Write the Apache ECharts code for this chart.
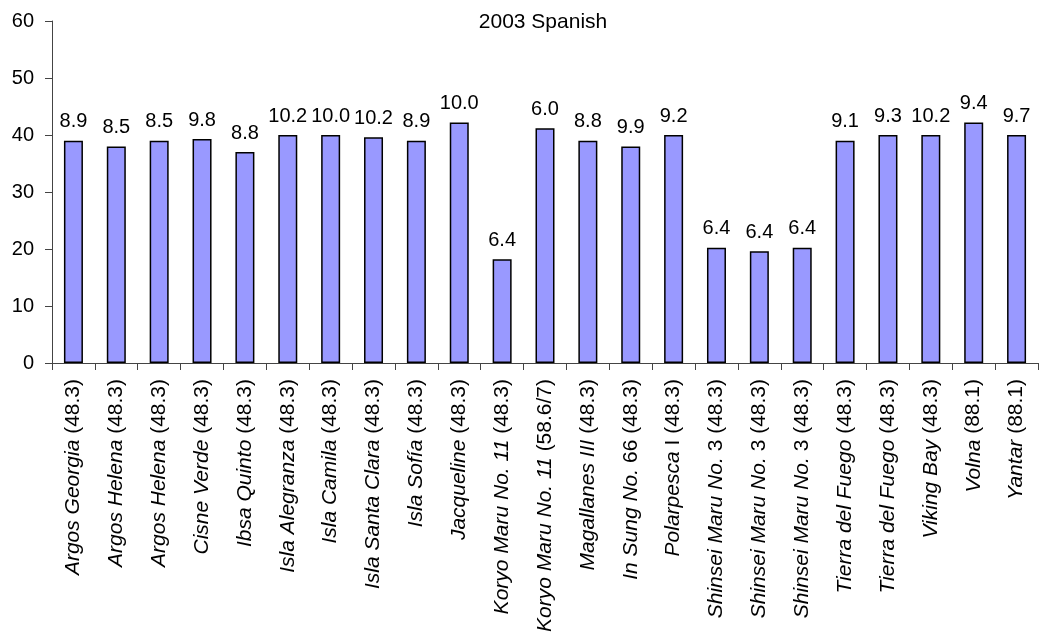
<!DOCTYPE html>
<html>
<head>
<meta charset="utf-8">
<script src="https://cdn.jsdelivr.net/npm/echarts@6/dist/echarts.min.js"></script>
<style>html,body{margin:0;padding:0;background:#fff}#c{width:1063px;height:644px}</style>
</head>
<body>
<div id="c"></div>
<script>
var vesselItalic = ["Argos Georgia","Argos Helena","Argos Helena","Cisne Verde","Ibsa Quinto","Isla Alegranza","Isla Camila","Isla Santa Clara","Isla Sofía","Jacqueline","Koryo Maru No. 11","Koryo Maru No. 11","Magallanes III","In Sung No.","Polarpesca","Shinsei Maru No.","Shinsei Maru No.","Shinsei Maru No.","Tierra del Fuego","Tierra del Fuego","Viking Bay","Volna","Yantar"];
var vesselPlain = ["","","","","","","","","","","","",""," 66"," I"," 3"," 3"," 3","","","","",""];
var areaCodes = ["(48.3)","(48.3)","(48.3)","(48.3)","(48.3)","(48.3)","(48.3)","(48.3)","(48.3)","(48.3)","(48.3)","(58.6/7)","(48.3)","(48.3)","(48.3)","(48.3)","(48.3)","(48.3)","(48.3)","(48.3)","(48.3)","(88.1)","(88.1)"];
var barValues = [39,38,39,39.3,37,40,40,39.6,39,42.2,18.2,41.2,39,38,40,20.2,19.6,20.2,39,40,40,42.2,40];
var barLabels = ["8.9","8.5","8.5","9.8","8.8","10.2","10.0","10.2","8.9","10.0","6.4","6.0","8.8","9.9","9.2","6.4","6.4","6.4","9.1","9.3","10.2","9.4","9.7"];
var yTicks = [0,10,20,30,40,50,60];

var categories = vesselItalic.map(function(n,i){ return String(i); });
var FONT = 'Liberation Sans, Arial, sans-serif';
var chart = echarts.init(document.getElementById('c'), null, {renderer:'canvas'});
chart.setOption({
  animation:false,
  backgroundColor:'#fff',
  title:{
    text:'2003 Spanish',
    left:538, top:7, textAlign:'center',
    textStyle:{fontFamily:FONT,fontSize:21,fontWeight:'normal',color:'#000'}
  },
  grid:{left:52,right:25,top:21,bottom:281,containLabel:false},
  xAxis:{
    type:'category',
    data:categories,
    boundaryGap:true,
    axisLine:{lineStyle:{color:'#444',width:1}},
    axisTick:{show:true,length:7,lineStyle:{color:'#444'}},
    axisLabel:{
      interval:0,rotate:90,margin:16,
      fontFamily:FONT,fontSize:21,color:'#000',
      formatter:function(v){
        var i = +v;
        return '{it|' + vesselItalic[i] + '}' + vesselPlain[i] + ' ' + areaCodes[i];
      },
      rich:{it:{fontStyle:'italic',fontFamily:FONT,fontSize:21,color:'#000'}}
    },
    splitLine:{show:false}
  },
  yAxis:{
    type:'value',
    min:yTicks[0],max:yTicks[yTicks.length-1],interval:10,
    axisLine:{show:true,lineStyle:{color:'#444',width:1}},
    axisTick:{show:true,length:7,lineStyle:{color:'#444'}},
    axisLabel:{margin:18,fontFamily:FONT,fontSize:20,color:'#000'},
    splitLine:{show:false}
  },
  series:[{
    type:'bar',
    data:barValues,
    barWidth:19,
    itemStyle:{color:'#9999FF',borderColor:'#000',borderWidth:1.5},
    label:{
      show:true,position:'top',distance:9,
      fontFamily:FONT,fontSize:20,color:'#000',
      formatter:function(p){return barLabels[p.dataIndex];}
    }
  }]
});
</script>
</body>
</html>
